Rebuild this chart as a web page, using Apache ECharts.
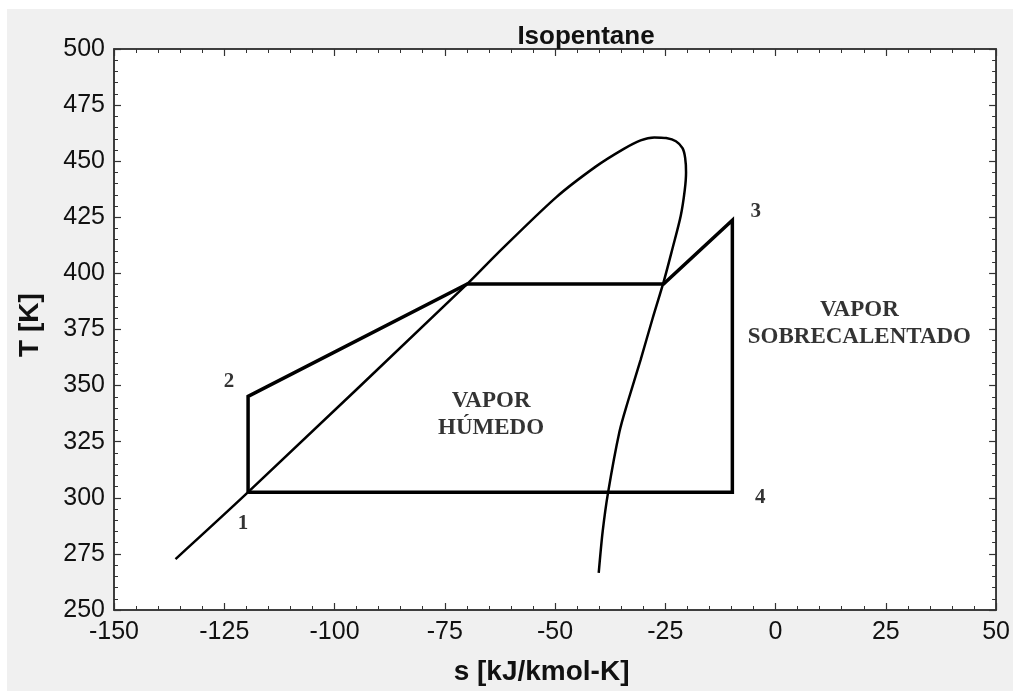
<!DOCTYPE html>
<html>
<head>
<meta charset="utf-8">
<script src="https://cdn.jsdelivr.net/npm/echarts@6/dist/echarts.min.js"></script>
<style>
html,body{margin:0;padding:0;background:#ffffff;width:1013px;height:691px;overflow:hidden;}
#c{position:absolute;left:7px;top:9px;width:1006px;height:682px;}
</style>
</head>
<body>
<div id="c"></div>
<script>
// Saturation dome (s [kJ/kmol-K], T [K])
const domeS = [-136.05, -119.6, -69.9, -63.2, -49.7, -40.7, -34.6, -30.6, -27.5, -24.8, -22.6, -21.1, -20.5, -20.3, -20.6, -21.5, -23.4, -25.3, -27.9, -30.6, -33.5, -35.4, -38.0, -39.2, -40.1];
const domeT = [272.7, 302.5, 395.3, 408.6, 434.0, 447.7, 455.3, 459.3, 460.6, 460.3, 458.9, 455.8, 451.5, 445.0, 437.0, 425.7, 410.9, 396.8, 379.8, 361.5, 342.8, 329.4, 302.1, 285.0, 266.5];

// Cycle 1-2-(sat liq)-(sat vap)-3-4-1
const cycleS = [-119.6, -119.6, -69.9, -25.4, -9.8, -9.8, -119.6];
const cycleT = [302.5, 345.2, 395.3, 395.3, 423.7, 302.5, 302.5];

// State point labels
const pointLabels = ['1', '2', '3', '4'];
const pointLabelS = [-120.75, -123.9, -4.5, -3.5];
const pointLabelT = [288.7, 351.8, 427.5, 300.3];

// Region labels
const regionLabels = ['VAPOR\nHÚMEDO', 'VAPOR\nSOBRECALENTADO'];
const regionS = [-64.5, 19.0];
const regionT = [337.1, 377.6];

// Axis ticks
const xMin = -150, xMax = 50, xStep = 25;
const yMin = 250, yMax = 500, yStep = 25;

const chart = echarts.init(document.getElementById('c'), null, {renderer: 'canvas'});

const zip = (a, b) => a.map((v, i) => [v, b[i]]);

const axisCommon = () => ({
  axisLine: {show: true, onZero: false, lineStyle: {color: '#333', width: 1.5}},
  axisTick: {show: true, inside: true, length: 7, lineStyle: {color: '#333', width: 1.2}},
  minorTick: {show: true, splitNumber: 5, length: 4, lineStyle: {color: '#333', width: 1}},
  splitLine: {show: false}
});

const option = {
  backgroundColor: '#f0f0f0',
  animation: false,
  title: {
    text: 'Isopentane',
    left: 574, top: 10, textAlign: 'center',
    textStyle: {fontFamily: 'Liberation Sans, Arial, sans-serif', fontWeight: 'bold', fontSize: 26, color: '#111'}
  },
  grid: {left: 107, top: 40, right: 10, bottom: 79, show: true, backgroundColor: '#ffffff', borderColor: '#333', borderWidth: 1.5},
  xAxis: [
    Object.assign({
      type: 'value', min: xMin, max: xMax, interval: xStep, position: 'bottom',
      name: 's [kJ/kmol-K]', nameLocation: 'middle', nameGap: 48,
      nameTextStyle: {fontFamily: 'Liberation Sans, Arial, sans-serif', fontWeight: 'bold', fontSize: 28, color: '#111', padding: [0, 27, 0, 0]},
      axisLabel: {fontFamily: 'Liberation Sans, Arial, sans-serif', fontSize: 25, color: '#111', margin: 10}
    }, axisCommon()),
    Object.assign({
      type: 'value', min: xMin, max: xMax, interval: xStep, position: 'top',
      axisLabel: {show: false}
    }, axisCommon())
  ],
  yAxis: [
    Object.assign({
      type: 'value', min: yMin, max: yMax, interval: yStep, position: 'left',
      name: 'T [K]', nameLocation: 'middle', nameGap: 70,
      nameTextStyle: {fontFamily: 'Liberation Sans, Arial, sans-serif', fontWeight: 'bold', fontSize: 28, color: '#111', padding: [0, 0, 0, 9]},
      axisLabel: {fontFamily: 'Liberation Sans, Arial, sans-serif', fontSize: 25, color: '#111', margin: 9}
    }, axisCommon()),
    Object.assign({
      type: 'value', min: yMin, max: yMax, interval: yStep, position: 'right',
      axisLabel: {show: false}
    }, axisCommon())
  ],
  series: [
    {
      type: 'line', name: 'dome', data: zip(domeS, domeT), smooth: 0.3,
      showSymbol: false, lineStyle: {color: '#000', width: 2.5}, z: 3
    },
    {
      type: 'line', name: 'cycle', data: zip(cycleS, cycleT), smooth: false,
      showSymbol: false, lineStyle: {color: '#000', width: 3.5, join: 'miter'}, z: 4
    },
    {
      type: 'scatter', name: 'points', symbolSize: 0, itemStyle: {color: '#000'},
      data: pointLabels.map((t, i) => ({value: [pointLabelS[i], pointLabelT[i]], name: t})),
      label: {show: true, position: 'inside', formatter: p => p.name,
        fontFamily: 'Liberation Serif, Times New Roman, serif', fontWeight: 'bold', fontSize: 21, color: '#000',
        textBorderWidth: 0, textBorderColor: 'transparent'},
      emphasis: {disabled: true},
      z: 5
    },
    {
      type: 'scatter', name: 'regions', symbolSize: 0, itemStyle: {color: '#000'},
      data: regionLabels.map((t, i) => ({value: [regionS[i], regionT[i]], name: t})),
      label: {show: true, position: 'inside', formatter: p => p.name, align: 'center', lineHeight: 27,
        fontFamily: 'Liberation Serif, Times New Roman, serif', fontWeight: 'bold', fontSize: 23, color: '#000',
        textBorderWidth: 0, textBorderColor: 'transparent'},
      emphasis: {disabled: true},
      z: 5
    }
  ]
};
chart.setOption(option);
</script>
</body>
</html>
